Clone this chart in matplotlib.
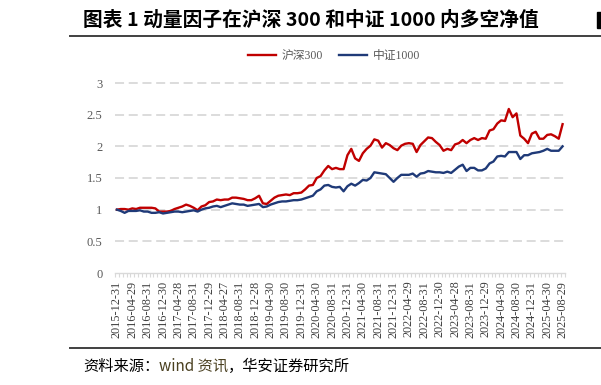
import matplotlib
matplotlib.use("Agg")
import matplotlib.pyplot as plt
import numpy as np
from matplotlib.lines import Line2D
from matplotlib.patches import Rectangle

# ---------------- data ----------------
hs300 = [1.00, 1.01, 1.01, 1.00, 1.02, 1.01, 1.03, 1.03, 1.03, 1.03, 1.02, 0.97,
         0.97, 0.97, 0.98, 1.01, 1.03, 1.05, 1.08, 1.06, 1.03, 0.99, 1.05, 1.07,
         1.12, 1.13, 1.16, 1.15, 1.16, 1.16, 1.19, 1.19, 1.18, 1.17, 1.15, 1.15,
         1.18, 1.22, 1.10, 1.09, 1.14, 1.19, 1.22, 1.23, 1.24, 1.23, 1.26, 1.26,
         1.27, 1.32, 1.38, 1.39, 1.50, 1.53, 1.62, 1.69, 1.64, 1.66, 1.64, 1.64,
         1.86, 1.96, 1.81, 1.77, 1.89, 1.96, 2.01, 2.11, 2.09, 1.98, 2.05, 2.02,
         1.97, 1.94, 2.01, 2.04, 2.05, 2.04, 1.91, 2.02, 2.08, 2.14, 2.13, 2.07,
         2.02, 1.93, 1.96, 1.94, 2.03, 2.05, 2.10, 2.05, 2.10, 2.13, 2.10, 2.13,
         2.12, 2.25, 2.27, 2.36, 2.41, 2.40, 2.59, 2.46, 2.52, 2.17, 2.12, 2.05,
         2.20, 2.23, 2.12, 2.12, 2.18, 2.19, 2.16, 2.12, 2.35]
zz1000 = [1.00, 0.98, 0.95, 0.98, 0.98, 0.98, 0.99, 0.97, 0.97, 0.95, 0.95, 0.96,
          0.94, 0.95, 0.96, 0.97, 0.97, 0.96, 0.97, 0.98, 0.99, 0.97, 1.00, 1.02,
          1.03, 1.05, 1.06, 1.04, 1.06, 1.08, 1.10, 1.09, 1.08, 1.08, 1.06, 1.07,
          1.08, 1.09, 1.04, 1.05, 1.08, 1.10, 1.12, 1.13, 1.13, 1.14, 1.15, 1.15,
          1.16, 1.18, 1.20, 1.22, 1.29, 1.32, 1.38, 1.39, 1.36, 1.35, 1.36, 1.29,
          1.37, 1.41, 1.38, 1.42, 1.47, 1.46, 1.50, 1.59, 1.58, 1.57, 1.56, 1.50,
          1.44, 1.50, 1.55, 1.55, 1.55, 1.57, 1.52, 1.57, 1.58, 1.61, 1.60, 1.59,
          1.59, 1.58, 1.60, 1.58, 1.63, 1.68, 1.71, 1.61, 1.66, 1.66, 1.62, 1.62,
          1.65, 1.73, 1.76, 1.84, 1.85, 1.84, 1.91, 1.91, 1.91, 1.80, 1.86, 1.86,
          1.89, 1.90, 1.91, 1.93, 1.96, 1.93, 1.93, 1.93, 2.00]
tick_labels = ["2015-12-31", "2016-04-29", "2016-08-31", "2016-12-30", "2017-04-28",
               "2017-08-31", "2017-12-29", "2018-04-27", "2018-08-31", "2018-12-28",
               "2019-04-30", "2019-08-30", "2019-12-31", "2020-04-30", "2020-08-31",
               "2020-12-31", "2021-04-30", "2021-08-31", "2021-12-31", "2022-04-29",
               "2022-08-31", "2022-12-30", "2023-04-28", "2023-08-31", "2023-12-29",
               "2024-04-30", "2024-08-30", "2024-12-31", "2025-04-30", "2025-08-29"]
series_names = ["沪深300", "中证1000"]
y_ticks = [0, 0.5, 1, 1.5, 2, 2.5, 3]
y_tick_labels = ["0", "0.5", "1", "1.5", "2", "2.5", "3"]

title = "图表 1 动量因子在沪深 300 和中证 1000 内多空净值"
source_parts = ["资料来源：", "wind 资讯", "，华安证券研究所"]

# ---------------- figure ----------------
W, H = 601, 385
fig = plt.figure(figsize=(W / 100, H / 100), dpi=100)
fig.patch.set_facecolor("white")

serif = ["Liberation Serif", "Noto Sans CJK SC"]
cjk = ["Noto Sans CJK SC", "DejaVu Sans"]

def fx(px):
    return px / W

def fy(py):
    return 1 - py / H

ax = fig.add_axes([fx(115), fy(273), fx(564.5) - fx(115), fy(83) - fy(273)])
n = len(hs300)
x = np.arange(n)

for yv in y_ticks[1:]:
    ax.axhline(yv, color="#d9d9d9", lw=1.3, ls=(0, (5, 2.6)), zorder=1, clip_on=False)

red = "#C00000"
blue = "#1F3A78"
ax.plot(x, hs300, color=red, lw=1.7, zorder=3, solid_joinstyle="round")
ax.plot(x, zz1000, color=blue, lw=1.7, zorder=3, solid_joinstyle="round")

ax.set_xlim(-0.5, n - 0.5)
ax.set_ylim(0, 3)

for s in ["top", "right", "left"]:
    ax.spines[s].set_visible(False)
ax.spines["bottom"].set_color("#d9d9d9")
ax.spines["bottom"].set_linewidth(1.0)

ax.set_xticks(x[::4])
ax.set_xticklabels(tick_labels, rotation=90, fontsize=8.8, color="#404040",
                   family=serif)
ax.set_xticks(np.arange(-0.5, n, 1), minor=True)
ax.tick_params(axis="x", which="major", length=0, pad=5.5)
ax.tick_params(axis="x", which="minor", length=3, color="#d9d9d9", width=0.8)

ax.set_yticks(y_ticks)
ax.set_yticklabels(y_tick_labels, fontsize=9, color="#595959", family=serif)
ax.tick_params(axis="y", length=0, pad=9)

handles = [Line2D([], [], color=red, lw=1.7), Line2D([], [], color=blue, lw=1.7)]
leg = fig.legend(handles, series_names, loc="center", ncol=2,
                 bbox_to_anchor=(fx(334), fy(56)), frameon=False,
                 prop={"family": serif, "size": 8.5}, handlelength=2.4,
                 handletextpad=0.5, columnspacing=1.3)
for t in leg.get_texts():
    t.set_color("#595959")

# title and lines
fig.text(fx(83), fy(20), title, fontsize=14.2, fontweight="bold",
         family=cjk, ha="left", va="center", color="black")
fig.add_artist(Line2D([fx(70), 1], [fy(35.5), fy(35.5)], color="#404040", lw=1.4))
fig.add_artist(Line2D([fx(70), 1], [fy(348), fy(348)], color="#404040", lw=1.4))
fig.add_artist(Rectangle((fx(597), fy(28)), fx(4), fy(12) - fy(28),
                         color="black", transform=fig.transFigure))

# footer with colored middle part
renderer = fig.canvas.get_renderer()
colors = ["black", "#4a4020", "black"]
xpos = fx(83)
for part, c in zip(source_parts, colors):
    t = fig.text(xpos, fy(366), part, fontsize=11, family=cjk, ha="left",
                 va="center", color=c)
    bb = t.get_window_extent(renderer=renderer)
    xpos = fig.transFigure.inverted().transform((bb.x1, bb.y0))[0]

fig.savefig("out.png", dpi=100)
